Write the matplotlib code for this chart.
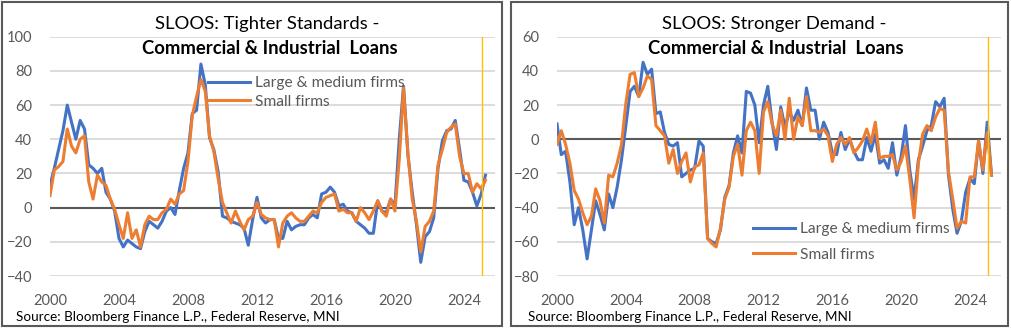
#----Modules----#
import pandas as pd
import matplotlib.pyplot as plt
from matplotlib.patches import Rectangle

#----Data: quarterly SLOOS net percentages, 2000 Q1 to 2025 Q2----#
start_date = '2000-01-01'

# tighter standards, large & medium firms
tight_large = [13, 23, 34, 45, 60, 50, 40, 51, 46, 25, 23, 20, 23, 9, 5, -2,
               -18, -23, -19, -21, -23, -24, -14, -8, -10, -12, -8, -2, 0, -4, 10, 23,
               32, 55, 57, 84, 72, 41, 34, 21, -5, -6, -8, -9, -10, -12, -22, -7,
               6, -6, -9, -7, -7, -18, -18, -8, -13, -11, -10, -10, -6, -4, -6, 8,
               9, 12, 9, 1, 2, -2, -3, -8, -10, -12, -15, -15, 4, -2, -3, 5,
               1, 40, 71, 31, 9, -10, -32, -17, -14, -6, 23, 39, 45, 46, 51, 34,
               16, 15, 9, 1, 8, 19]
# tighter standards, small firms
tight_small = [7, 22, 24, 27, 46, 36, 32, 40, 42, 15, 5, 19, 15, 13, 5, -1,
               -10, -18, -3, -18, -13, -23, -10, -5, -7, -7, -3, -1, 5, 2, 8, 10,
               27, 54, 65, 75, 68, 42, 33, 17, 3, -3, -9, -2, -8, -13, -7, -5,
               3, -4, -6, -7, -7, -23, -9, -5, -3, -6, -8, -8, -5, -2, -3, 3,
               6, 7, 8, -2, -1, -3, -3, -8, 0, -3, -7, -2, 4, -2, -5, 5,
               -2, 28, 70, 32, 5, -8, -26, -11, -8, -2, 25, 34, 44, 47, 49, 30,
               20, 20, 9, 14, 11, 16]
# stronger demand, large & medium firms
demand_large = [9, -9, -7, -25, -50, -40, -53, -70, -53, -36, -44, -53, -32, -40, -28, -12,
                8, 28, 31, 25, 45, 38, 41, 15, 16, 4, -3, -4, -2, -22, -20, -18,
                -17, -1, -4, -58, -60, -61, -53, -34, -27, -8, 2, -8, 28, 27, 20, -2,
                20, 31, 10, -6, 19, 7, 16, 11, 17, 8, 30, 17, 17, 0, 10, 4,
                -8, -9, 4, -6, 0, -7, -12, -12, 1, -7, 3, -14, -12, -17, -2, -21,
                -10, 8, -18, -35, -12, -4, 5, 8, 22, 19, 24, -21, -41, -55, -48, -31,
                -23, -26, -1, -20, 10, -21]
# stronger demand, small firms
demand_small = [-3, 5, -3, -14, -30, -35, -43, -50, -45, -29, -36, -49, -21, -22, -14, -3,
                21, 38, 39, 25, 30, 37, 35, 8, 5, 2, -14, -6, -20, -13, -8, -25,
                -16, -15, -8, -58, -61, -63, -52, -35, -28, -10, -3, -21, 5, 10, 5, -20,
                16, 22, 9, 2, 17, 0, 24, 0, 13, 8, 25, 5, 5, 4, 6, 2,
                -13, -3, 1, -3, 1, -8, -5, -1, 6, -2, 10, -11, -10, -10, -9, -18,
                -13, -4, -23, -46, -14, 3, 8, 5, 13, 18, 17, -19, -35, -52, -48, -49,
                -22, -22, -1, -18, 4, -21]

series_labels = ['Large & medium firms', 'Small firms']
year_ticks = [2000, 2004, 2008, 2012, 2016, 2020, 2024]
source_text = 'Source: Bloomberg Finance L.P., Federal Reserve, MNI'

dates = pd.date_range(start_date, periods=len(tight_large), freq='QS')

#----Styling----#
plt.rcParams['font.family'] = ['Lato', 'DejaVu Sans']
BLUE = '#4472C4'
ORANGE = '#ED7D31'
GREY = '#595959'
W, H = 1012, 328

fig = plt.figure(figsize=(W / 100, H / 100), dpi=100)


def px(x, y):
    # pixel position (from top-left) -> figure fraction
    return x / W, 1 - y / H


def make_panel(left, right, ylims, big, small, title1, legend_xy, legend_gap):
    bottom_px, top_px = 276, 36.7
    ax = fig.add_axes([left / W, 1 - bottom_px / H, (right - left) / W, (bottom_px - top_px) / H])
    ax.plot(dates, big, color=BLUE, lw=2.2, label=series_labels[0], zorder=3)
    ax.plot(dates, small, color=ORANGE, lw=2.2, label=series_labels[1], zorder=4)
    ax.axhline(0, color=GREY, lw=1.5, zorder=2)
    ax.axvline(pd.Timestamp('2025-01-15'), color='#FFC000', lw=1, zorder=5)

    ax.set_ylim(*ylims)
    ax.set_yticks(range(ylims[0], ylims[1] + 1, 20))
    ax.set_xlim(pd.Timestamp('2000-01-01'), pd.Timestamp('2025-10-20'))
    ax.set_xticks([pd.Timestamp(f'{y}-01-01') for y in year_ticks])
    ax.set_xticklabels([str(y) for y in year_ticks])
    ax.grid(axis='y', color='#D9D9D9', lw=1.3, zorder=1)
    ax.set_axisbelow(True)
    for s in ax.spines.values():
        s.set_visible(False)
    ax.tick_params(length=0, labelsize=10.5, colors=GREY, pad=13)
    ax.tick_params(axis='y', pad=13)

    leg = ax.legend(loc='upper left', bbox_to_anchor=px(*legend_xy), bbox_transform=fig.transFigure,
                    frameon=False, borderpad=0, borderaxespad=0, handlelength=2.7,
                    handletextpad=0.3, labelspacing=legend_gap, fontsize=11.2)
    for t in leg.get_texts():
        t.set_color(GREY)

    cx = (left + right) / 2
    fig.text(*px(cx - 5, 24), title1, ha='center', va='center', fontsize=13.3, color='black')
    fig.text(*px(cx - 3, 49), 'Commercial & Industrial  Loans', ha='center', va='center',
             fontsize=13.3, fontweight='bold', color='black')
    return ax


make_panel(50, 495, (-40, 100), tight_large, tight_small,
           'SLOOS: Tighter Standards -', (208, 76), 0.3)
make_panel(557, 1001, (-80, 60), demand_large, demand_small,
           'SLOOS: Stronger Demand -', (753, 222), 0.74)

# source notes
fig.text(*px(16, 317), source_text, ha='left', va='center', fontsize=9.7, color='black')
fig.text(*px(528, 317), source_text, ha='left', va='center', fontsize=9.7, color='black')

# panel borders
for x0, x1 in [(2, 502), (511, 1008)]:
    fig.add_artist(Rectangle(px(x0, 326), (x1 - x0) / W, 324 / H, transform=fig.transFigure,
                             fill=False, ec=GREY, lw=1.5))

fig.savefig('out.png', dpi=100)
